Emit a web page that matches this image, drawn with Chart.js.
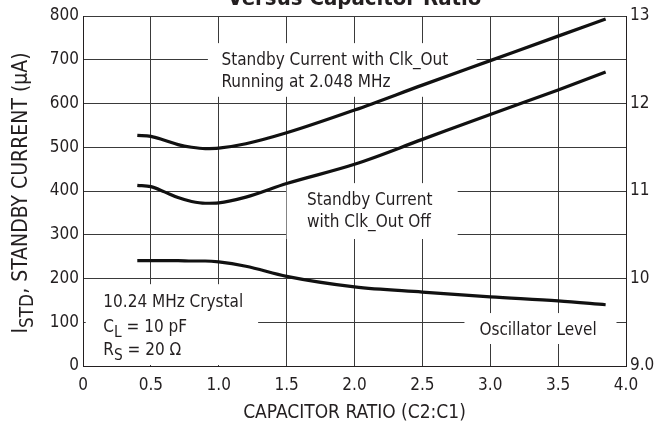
<!DOCTYPE html>
<html>
<head>
<meta charset="utf-8">
<script src="https://cdn.jsdelivr.net/npm/chart.js@4/dist/chart.umd.min.js"></script>
<style>
    html, body { margin: 0; padding: 0; background: #fff; }
    #wrap { width: 655px; height: 429px; }
</style>
</head>
<body>
<div id="wrap"><canvas id="chart" width="655" height="429"></canvas></div>
<script>
// capacitor ratio C2:C1 where the curves were read
const ratio = [0.4, 0.5, 0.6, 0.7, 0.8, 0.9, 1.0, 1.2, 1.5, 2.0, 2.5, 3.0, 3.5, 3.85];
// standby current, uA
const clkOutRunning = [527, 525, 516, 506, 500, 497, 498, 508, 533, 585, 642, 698, 754, 793];
const clkOutOff = [413, 410, 398, 385, 376, 372, 373, 386, 417, 461, 518, 575, 631, 672];
// oscillator level, right axis
const oscLevel = [10.205, 10.205, 10.205, 10.205, 10.2, 10.2, 10.19, 10.14, 10.025, 9.905, 9.845, 9.79, 9.745, 9.70];

const xTicks = [0, 0.5, 1.0, 1.5, 2.0, 2.5, 3.0, 3.5, 4.0];
const FONT = '"Liberation Sans Narrow", "DejaVu Sans Condensed", sans-serif';

function points(ys) {
    return ratio.map((x, i) => ({ x: x, y: ys[i] }));
}

// notes on the plot, placed in data units (ratio, uA); box = [x0, x1, yTop, yBottom]
const notes = [
    { box: [0.92, 2.90, 738, 613], x: 1.02, lines: [[['Standby Current with Clk_Out']], [['Running at 2.048 MHz']]] },
    { box: [1.50, 2.76, 418, 288], x: 1.65, lines: [[['Standby Current']], [['with Clk_Out Off']]] },
    { box: [0.02, 1.29, 187, 0], x: 0.15, lines: [
        [['10.24 MHz Crystal']],
        [['C'], ['L', 'sub'], [' = 10 pF']],
        [['R'], ['S', 'sub'], [' = 20 \u03A9']]
    ] },
    { box: [2.81, 3.93, 121, 48], x: 2.92, lines: [[['Oscillator Level']]] }
];
const noteBaselines = [[688, 638], [368, 318], [135, 78, 25], [71]];

function drawRich(ctx, parts, x, y, size) {
    for (const p of parts) {
        let s = size, dy = 0;
        if (p[1] === 'sub') { s = size * 0.9; dy = size * 0.3; }
        ctx.font = s + 'px ' + FONT;
        ctx.fillText(p[0], x, y + dy);
        x += ctx.measureText(p[0]).width;
    }
    return x;
}

function richWidth(ctx, parts, size) {
    let w = 0;
    for (const p of parts) {
        ctx.font = (p[1] === 'sub' ? size * 0.9 : size) + 'px ' + FONT;
        w += ctx.measureText(p[0]).width;
    }
    return w;
}

const notesPlugin = {
    id: 'notes',
    beforeDatasetsDraw(chart) {
        const ctx = chart.ctx;
        const xs = chart.scales.x, ys = chart.scales.y;
        ctx.save();
        notes.forEach((n, k) => {
            const x0 = xs.getPixelForValue(n.box[0]), x1 = xs.getPixelForValue(n.box[1]);
            const y0 = ys.getPixelForValue(n.box[2]), y1 = ys.getPixelForValue(n.box[3]);
            ctx.fillStyle = '#fff';
            ctx.fillRect(x0, y0, x1 - x0, y1 - y0 - 1);
            ctx.fillStyle = '#231f20';
            ctx.textBaseline = 'alphabetic';
            ctx.textAlign = 'left';
            n.lines.forEach((parts, i) => {
                drawRich(ctx, parts, xs.getPixelForValue(n.x), ys.getPixelForValue(noteBaselines[k][i]), 17);
            });
        });
        ctx.restore();
    },
    afterDraw(chart) {
        const ctx = chart.ctx;
        const area = chart.chartArea;
        ctx.save();
        ctx.fillStyle = '#231f20';
        ctx.textBaseline = 'alphabetic';
        // title, cut by the top edge
        ctx.font = 'bold 22px ' + FONT;
        ctx.textAlign = 'center';
        ctx.fillText('Versus Capacitor Ratio', (area.left + area.right) / 2, 5);
        // x axis title
        ctx.font = '19px ' + FONT;
        ctx.fillText('CAPACITOR RATIO (C2:C1)', (area.left + area.right) / 2, 418);
        // y axis title with subscript
        const yParts = [['I'], ['STD', 'sub'], [', STANDBY CURRENT (\u00B5A)']];
        ctx.translate(27, (area.top + area.bottom) / 2 + 2);
        ctx.rotate(-Math.PI / 2);
        ctx.textAlign = 'left';
        const w = richWidth(ctx, yParts, 21);
        drawRich(ctx, yParts, -w / 2, 0, 21);
        ctx.restore();
    }
};

const lineStyle = {
    borderColor: '#111',
    borderWidth: 3.2,
    pointRadius: 0,
    fill: false,
    cubicInterpolationMode: 'monotone'
};

new Chart(document.getElementById('chart'), {
    type: 'line',
    data: {
        datasets: [
            Object.assign({ label: 'Standby Current with Clk_Out Running', data: points(clkOutRunning), yAxisID: 'y' }, lineStyle),
            Object.assign({ label: 'Standby Current with Clk_Out Off', data: points(clkOutOff), yAxisID: 'y' }, lineStyle),
            Object.assign({ label: 'Oscillator Level', data: points(oscLevel), yAxisID: 'y2' }, lineStyle)
        ]
    },
    options: {
        responsive: false,
        animation: false,
        layout: { padding: { top: 16, left: 0, right: 0, bottom: 0 } },
        plugins: { legend: { display: false }, tooltip: { enabled: false } },
        scales: {
            x: {
                type: 'linear',
                min: 0,
                max: 4,
                afterBuildTicks: (s) => { s.ticks = xTicks.map(v => ({ value: v })); },
                afterFit: (s) => { s.height = 63; },
                ticks: {
                    color: '#231f20',
                    font: { family: FONT, size: 17 },
                    padding: 9,
                    maxRotation: 0,
                    callback: (v) => v === 0 ? '0' : v.toFixed(1)
                },
                grid: { color: '#3a3a3a', lineWidth: 1, drawTicks: false },
                border: { color: '#231f20', width: 1 }
            },
            y: {
                position: 'left',
                min: 0,
                max: 800,
                afterFit: (s) => { s.width = 83; },
                ticks: {
                    stepSize: 100,
                    color: '#231f20',
                    font: { family: FONT, size: 17 },
                    padding: 4
                },
                grid: { color: '#3a3a3a', lineWidth: 1, drawTicks: false },
                border: { color: '#231f20', width: 1 }
            },
            y2: {
                position: 'right',
                min: 9,
                max: 13,
                afterFit: (s) => { s.width = 29; },
                ticks: {
                    stepSize: 1,
                    color: '#231f20',
                    font: { family: FONT, size: 17 },
                    padding: 4,
                    callback: (v) => v === 9 ? '9.0' : String(v)
                },
                grid: { display: false, drawTicks: false },
                border: { color: '#231f20', width: 1 }
            }
        }
    },
    plugins: [notesPlugin]
});
</script>
</body>
</html>
